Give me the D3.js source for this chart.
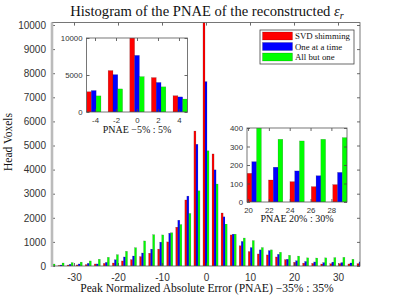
<!DOCTYPE html>
<html>
<head>
<meta charset="utf-8">
<script src="https://cdn.jsdelivr.net/npm/d3@7"></script>
<style>
  body { margin: 0; background: #fff; }
  svg { display: block; }
  .tick text { font-family: "Liberation Sans", Arial, sans-serif; fill: #333; }
  .tick line { stroke: #444; stroke-width: 0.8; }
  .serif { font-family: "Liberation Serif", "Times New Roman", serif; fill: #111; }
</style>
</head>
<body>
<div id="chart"></div>
<script>
// bin centers of the PNAE histogram (percent)
const binCenters = [-35, -32.94, -30.88, -28.82, -26.76, -24.71, -22.65, -20.59, -18.53, -16.47,
  -14.41, -12.35, -10.29, -8.24, -6.18, -4.12, -2.06, 0, 2.06, 4.12,
  6.18, 8.24, 10.29, 12.35, 14.41, 16.47, 18.53, 20.59, 22.65, 24.71,
  26.76, 28.82, 30.88, 32.94, 35];

// voxel counts per bin for every method
const svdShimming = [30, 20, 40, 45, 60, 85, 110, 125, 210, 265,
  390, 530, 700, 1000, 1610, 2740, 5600, 10500, 4650, 2200,
  1290, 840, 600, 500, 460, 375, 265, 155, 119, 110,
  83, 94, 100, 85, 100];
const oneAtATime = [40, 40, 70, 85, 110, 85, 150, 260, 375, 415,
  540, 700, 990, 1360, 1900, 2900, 5050, 7650, 3990, 2040,
  1320, 1020, 765, 670, 640, 485, 280, 218, 188, 168,
  142, 160, 140, 125, 170];
const allButOne = [83, 125, 140, 160, 210, 280, 360, 470, 610, 760,
  1040, 1300, 1290, 1380, 1720, 2180, 3120, 4780, 3400, 1750,
  1320, 1160, 1055, 765, 670, 570, 445, 410, 339, 330,
  339, 348, 360, 280, 380];

const seriesNames = ['SVD shimming', 'One at a time', 'All but one'];
const seriesColors = ['#ff0000', '#0000ff', '#00ff00'];

// tick values
const mainTicksX = [-30, -20, -10, 0, 10, 20, 30];
const mainTicksY = [0, 1000, 2000, 3000, 4000, 5000, 6000, 7000, 8000, 9000, 10000];
const zoomLowRange = [-5, 5];
const zoomLowTicksX = [-4, -2, 0, 2, 4];
const zoomLowTicksY = [0, 5000, 10000];
const zoomHighRange = [20, 30];
const zoomHighTicksX = [20, 22, 24, 26, 28];
const zoomHighTicksY = [0, 100, 200, 300, 400];

const allSeries = [svdShimming, oneAtATime, allButOne];

const svg = d3.select('#chart')
  .append('svg')
  .attr('width', 399)
  .attr('height', 299);

const defs = svg.append('defs');
let clipCount = 0;

// draws grouped bars for the bins whose center lies in range
function drawBars(g, x, y, range, x0, x1, y0, y1) {
  const id = 'clip' + (clipCount++);
  defs.append('clipPath').attr('id', id)
    .append('rect')
    .attr('x', x0).attr('y', y1)
    .attr('width', x1 - x0).attr('height', y0 - y1);

  const spacing = x(binCenters[1]) - x(binCenters[0]);
  const bw = spacing * 0.667 / 3;
  const rows = [];
  binCenters.forEach((c, i) => {
    if (c < range[0] || c > range[1]) return;
    allSeries.forEach((s, k) => rows.push({ c: c, v: s[i], k: k }));
  });

  g.append('g')
    .attr('clip-path', 'url(#' + id + ')')
    .selectAll('rect')
    .data(rows)
    .enter()
    .append('rect')
      .attr('x', d => x(d.c) + (d.k - 1) * bw - bw / 2)
      .attr('width', bw)
      .attr('y', d => y(d.v))
      .attr('height', d => y(0) - y(d.v))
      .attr('fill', d => seriesColors[d.k])
      .attr('stroke', '#000')
      .attr('stroke-opacity', 0.35)
      .attr('stroke-width', 0.4);
}

// box with inward ticks on all four sides
function drawFrame(g, x, y, x0, x1, y0, y1, ticksX, ticksY, fontSize, padY, padX, thickLeft) {
  const fmt = d => String(d);
  g.append('g')
    .attr('transform', 'translate(' + x0 + ',0)')
    .call(d3.axisLeft(y).tickValues(ticksY).tickSize(-3).tickPadding(padY).tickFormat(fmt))
    .call(a => a.select('.domain').remove())
    .selectAll('text').style('font-size', fontSize + 'px');
  g.append('g')
    .attr('transform', 'translate(' + x1 + ',0)')
    .call(d3.axisRight(y).tickValues(ticksY).tickSize(-3).tickFormat(''))
    .call(a => a.select('.domain').remove());
  g.append('g')
    .attr('transform', 'translate(0,' + y0 + ')')
    .call(d3.axisBottom(x).tickValues(ticksX).tickSize(-3).tickPadding(padX).tickFormat(fmt))
    .call(a => a.select('.domain').remove())
    .selectAll('text').style('font-size', fontSize + 'px');
  g.append('g')
    .attr('transform', 'translate(0,' + y1 + ')')
    .call(d3.axisTop(x).tickValues(ticksX).tickSize(-3).tickFormat(''))
    .call(a => a.select('.domain').remove());

  g.append('rect')
    .attr('x', x0).attr('y', y1)
    .attr('width', x1 - x0).attr('height', y0 - y1)
    .attr('fill', 'none')
    .attr('stroke', '#555')
    .attr('stroke-width', 0.8);
  if (thickLeft) {
    g.append('line')
      .attr('x1', x0).attr('x2', x0)
      .attr('y1', y1).attr('y2', y0 + 1)
      .attr('stroke', '#bbb')
      .attr('stroke-width', 2.6);
  }
}

// main histogram
const mx0 = 52, mx1 = 360, my0 = 266, my1 = 22.6;
const xMain = d3.scaleLinear().domain([-35, 35]).range([mx0, mx1]);
const yMain = d3.scaleLinear().domain([0, 10100]).range([my0, my1]);
const main = svg.append('g');
drawBars(main, xMain, yMain, [-35, 35], mx0, mx1, my0, my1);
drawFrame(main, xMain, yMain, mx0, mx1, my0, my1, mainTicksX, mainTicksY, 10, 6, 8, true);

svg.append('text')
  .attr('class', 'serif')
  .attr('x', 207).attr('y', 16)
  .attr('text-anchor', 'middle')
  .style('font-size', '14.6px')
  .text('Histogram of the PNAE of the reconstructed ')
  .append('tspan').style('font-style', 'italic').text('ε')
  .append('tspan').attr('dy', 3).style('font-size', '10px').text('r');

svg.append('text')
  .attr('class', 'serif')
  .attr('x', 207).attr('y', 292)
  .attr('text-anchor', 'middle')
  .style('font-size', '11.6px')
  .text('Peak Normalized Absolute Error (PNAE) \u221235% : 35%');

svg.append('text')
  .attr('class', 'serif')
  .attr('transform', 'translate(12,142) rotate(-90)')
  .attr('text-anchor', 'middle')
  .style('font-size', '11.5px')
  .text('Head Voxels');

// inset: -5% .. 5%
const ax0 = 86.5, ax1 = 187.5, ay0 = 112, ay1 = 38;
const xLow = d3.scaleLinear().domain([-4.81, 4.81]).range([ax0, ax1]);
const yLow = d3.scaleLinear().domain([0, 10000]).range([ay0, ay1]);
const low = svg.append('g');
low.append('rect').attr('x', ax0 - 30).attr('y', ay1 - 4).attr('width', ax1 - ax0 + 34).attr('height', ay0 - ay1 + 26).attr('fill', '#fff');
drawBars(low, xLow, yLow, zoomLowRange, ax0, ax1, ay0, ay1);
drawFrame(low, xLow, yLow, ax0, ax1, ay0, ay1, zoomLowTicksX, zoomLowTicksY, 7.8, 4, 5, false);
low.append('text')
  .attr('class', 'serif')
  .attr('x', (ax0 + ax1) / 2).attr('y', 133)
  .attr('text-anchor', 'middle')
  .style('font-size', '10px')
  .text('PNAE \u22125% : 5%');

// inset: 20% .. 30%
const bx0 = 247, bx1 = 347, by0 = 202, by1 = 128;
const xHigh = d3.scaleLinear().domain([19.9, 29.5]).range([bx0, bx1]);
const yHigh = d3.scaleLinear().domain([0, 400]).range([by0, by1]);
const high = svg.append('g');
high.append('rect').attr('x', bx0 - 22).attr('y', by1 - 4).attr('width', bx1 - bx0 + 26).attr('height', by0 - by1 + 26).attr('fill', '#fff');
drawBars(high, xHigh, yHigh, zoomHighRange, bx0, bx1, by0, by1);
drawFrame(high, xHigh, yHigh, bx0, bx1, by0, by1, zoomHighTicksX, zoomHighTicksY, 7.8, 4, 5, false);
high.append('text')
  .attr('class', 'serif')
  .attr('x', (bx0 + bx1) / 2).attr('y', 222)
  .attr('text-anchor', 'middle')
  .style('font-size', '10px')
  .text('PNAE 20% : 30%');

// legend
const legend = svg.append('g').attr('transform', 'translate(260,30)');
legend.append('rect')
  .attr('width', 94).attr('height', 34)
  .attr('fill', '#fff')
  .attr('stroke', '#444')
  .attr('stroke-width', 0.8);
seriesNames.forEach((name, k) => {
  const row = legend.append('g').attr('transform', 'translate(0,' + (6 + k * 10.5) + ')');
  row.append('rect')
    .attr('x', 2.5).attr('y', -4)
    .attr('width', 30).attr('height', 8)
    .attr('fill', seriesColors[k])
    .attr('stroke', '#000')
    .attr('stroke-opacity', 0.35)
    .attr('stroke-width', 0.5);
  row.append('text')
    .attr('class', 'serif')
    .attr('x', 35).attr('y', 3.2)
    .style('font-size', '8.8px')
    .text(name);
});
</script>
</body>
</html>
